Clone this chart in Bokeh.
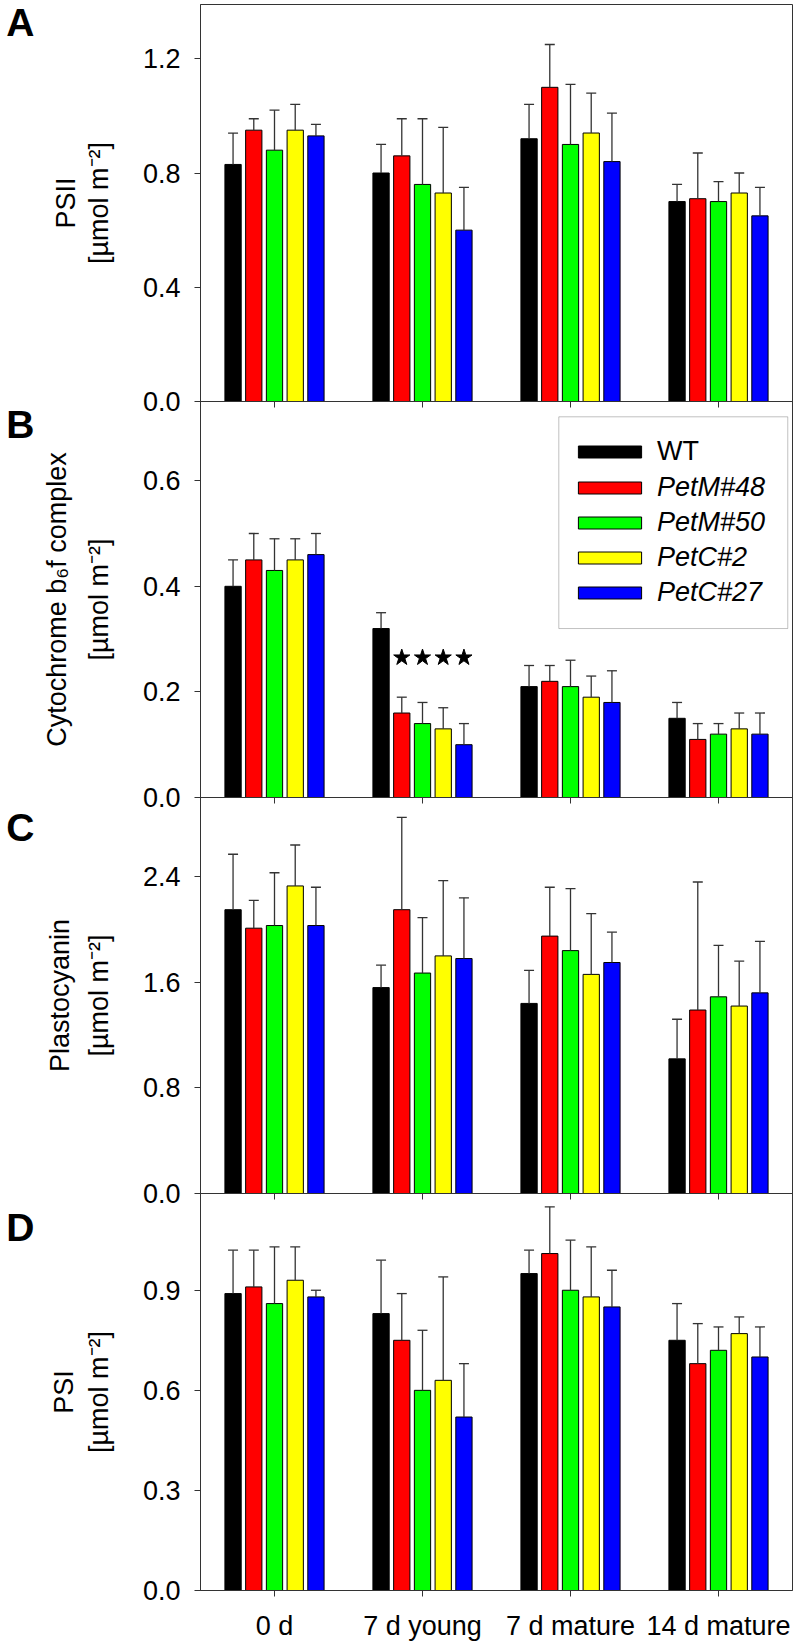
from bokeh.plotting import figure
from bokeh.models import (ColumnDataSource, FactorRange, Range1d, CategoricalAxis, LinearAxis,
                          FixedTicker, Whisker, TeeHead, Legend, LegendItem, BoxAnnotation,
                          PrintfTickFormatter, CustomJSTickFormatter)
from bokeh.transform import dodge
from bokeh.layouts import column
from bokeh.embed import file_html
from bokeh.resources import INLINE

# ---------------- data ----------------
categories = ["0 d", "7 d young", "7 d mature", "14 d mature"]
lines = ["WT", "PetM#48", "PetM#50", "PetC#2", "PetC#27"]
colors = ["#000000", "#ff0000", "#00ff00", "#ffff00", "#0000ff"]

# rows: lines, columns: categories
psii_mean = [
    [0.83, 0.80, 0.92, 0.70],
    [0.95, 0.86, 1.10, 0.71],
    [0.88, 0.76, 0.90, 0.70],
    [0.95, 0.73, 0.94, 0.73],
    [0.93, 0.60, 0.84, 0.65],
]
psii_sd = [
    [0.11, 0.10, 0.12, 0.06],
    [0.04, 0.13, 0.15, 0.16],
    [0.14, 0.23, 0.21, 0.07],
    [0.09, 0.23, 0.14, 0.07],
    [0.04, 0.15, 0.17, 0.10],
]
cytb6f_mean = [
    [0.40, 0.32, 0.21, 0.15],
    [0.45, 0.16, 0.22, 0.11],
    [0.43, 0.14, 0.21, 0.12],
    [0.45, 0.13, 0.19, 0.13],
    [0.46, 0.10, 0.18, 0.12],
]
cytb6f_sd = [
    [0.05, 0.03, 0.04, 0.03],
    [0.05, 0.03, 0.03, 0.03],
    [0.06, 0.04, 0.05, 0.02],
    [0.04, 0.04, 0.04, 0.03],
    [0.04, 0.04, 0.06, 0.04],
]
pc_mean = [
    [2.15, 1.56, 1.44, 1.02],
    [2.01, 2.15, 1.95, 1.39],
    [2.03, 1.67, 1.84, 1.49],
    [2.33, 1.80, 1.66, 1.42],
    [2.03, 1.78, 1.75, 1.52],
]
pc_sd = [
    [0.42, 0.17, 0.25, 0.30],
    [0.21, 0.70, 0.37, 0.97],
    [0.40, 0.42, 0.47, 0.39],
    [0.31, 0.57, 0.46, 0.34],
    [0.29, 0.46, 0.23, 0.39],
]
psi_mean = [
    [0.89, 0.83, 0.95, 0.75],
    [0.91, 0.75, 1.01, 0.68],
    [0.86, 0.60, 0.90, 0.72],
    [0.93, 0.63, 0.88, 0.77],
    [0.88, 0.52, 0.85, 0.70],
]
psi_sd = [
    [0.13, 0.16, 0.07, 0.11],
    [0.11, 0.14, 0.14, 0.12],
    [0.17, 0.18, 0.15, 0.07],
    [0.10, 0.31, 0.15, 0.05],
    [0.02, 0.16, 0.11, 0.09],
]
unit_label = "[µmol m⁻²]"
# significance stars (cyt b6f, 7 d young, all mutant lines)
star_category = "7 d young"
star_lines = ["PetM#48", "PetM#50", "PetC#2", "PetC#27"]
star_level = 0.265

# ---------------- style ----------------
FONT = "Liberation Sans"
AX = "#333333"
FRAME_W = 592
STRIP = 17          # overlap strip so that the "0.0" labels are not cut
offsets = [-0.28, -0.14, 0.0, 0.14, 0.28]
BAR_W = 0.11

x_range = FactorRange(factors=categories, range_padding=0)


def make_panel(means, sds, y_end, ticks, title, letter, letter_y, frame_h,
               title_gap, letter_gap,
               top_border=0, bottom_labels=False, overlap=True):
    p = figure(x_range=x_range, y_range=Range1d(0, y_end),
               frame_width=FRAME_W, frame_height=frame_h,
               x_axis_location="below",
               y_axis_location="left",
               output_backend="svg", toolbar_location=None,
               min_border_left=200, min_border_right=5,
               min_border_top=top_border,
               min_border_bottom=0 if bottom_labels else STRIP,
               outline_line_color=AX, outline_line_width=1,
               background_fill_alpha=0, border_fill_alpha=0)
    p.grid.visible = False
    if overlap:
        p.margin = (-STRIP, 0, 0, 0)

    ya = p.yaxis[0]
    ya.ticker = FixedTicker(ticks=ticks, minor_ticks=[])
    ya.formatter = PrintfTickFormatter(format="%.1f")
    ya.major_label_text_font = FONT
    ya.major_label_text_font_size = "27px"
    ya.major_label_text_color = "black"
    ya.major_tick_out = 6
    ya.major_tick_in = 0
    ya.minor_tick_out = 0
    ya.minor_tick_in = 0
    ya.major_label_standoff = 14
    ya.axis_line_color = AX
    ya.major_tick_line_color = AX
    ya.axis_label = unit_label
    ya.axis_label_text_font = FONT
    ya.axis_label_text_font_size = "27px"
    ya.axis_label_text_font_style = "normal"
    ya.axis_label_text_color = "black"
    ya.axis_label_standoff = 26

    # first line of the y title, as the label of a bare outer axis
    ta = LinearAxis(ticker=FixedTicker(ticks=[], minor_ticks=[]),
                    axis_label=title, axis_label_text_font=FONT,
                    axis_label_text_font_size="27px", axis_label_text_font_style="normal",
                    axis_label_text_color="black", axis_label_standoff=title_gap,
                    major_tick_out=0, major_tick_in=0, minor_tick_out=0, minor_tick_in=0,
                    major_label_standoff=0, major_label_text_font_size="0px",
                    major_tick_line_color=None, minor_tick_line_color=None,
                    axis_line_color=None)
    p.add_layout(ta, "left")

    # panel letter, drawn as the single label of the outermost left axis
    la = LinearAxis(ticker=FixedTicker(ticks=[letter_y], minor_ticks=[]),
                    formatter=CustomJSTickFormatter(code="return '%s'" % letter),
                    major_label_text_font=FONT, major_label_text_font_size="39px",
                    major_label_text_font_style="bold", major_label_text_color="black",
                    major_tick_out=0, major_tick_in=0, minor_tick_out=0, minor_tick_in=0,
                    major_tick_line_color=None, minor_tick_line_color=None,
                    axis_line_color=None, major_label_standoff=letter_gap)
    p.add_layout(la, "left")

    xa = p.xaxis[0]
    xa.major_tick_out = 6
    xa.major_tick_in = 0
    xa.axis_line_color = AX
    xa.major_tick_line_color = AX
    if bottom_labels:
        xa.major_label_text_font = FONT
        xa.major_label_text_font_size = "27px"
        xa.major_label_text_color = "black"
        xa.major_label_standoff = 14
    else:
        # ticks only (they point into the panel below)
        xa.major_label_text_font_size = "0px"
        xa.major_label_text_color = None
        xa.major_label_standoff = 0

    renderers = []
    for i, name in enumerate(lines):
        src = ColumnDataSource(dict(
            x=categories,
            top=means[i],
            upper=[m + s for m, s in zip(means[i], sds[i])],
        ))
        r = p.vbar(x=dodge("x", offsets[i], range=x_range), top="top", bottom=0,
                   width=BAR_W, source=src, fill_color=colors[i],
                   line_color="black", line_width=1)
        renderers.append(r)
        w = Whisker(base=dodge("x", offsets[i], range=x_range), lower="top",
                    upper="upper", source=src, dimension="height",
                    lower_head=None,
                    upper_head=TeeHead(size=10, line_color=AX, line_width=1.3),
                    line_color=AX, line_width=1.3, level="annotation")
        p.add_layout(w)
    return p, renderers


pA, _ = make_panel(psii_mean, psii_sd, 1.39, [0, 0.4, 0.8, 1.2],
                   "PSII", "A", 1.328, 397, 0, 13, top_border=4, overlap=False)
pB, rB = make_panel(cytb6f_mean, cytb6f_sd, 0.75, [0, 0.2, 0.4, 0.6],
                    "Cytochrome b₆f complex", "B", 0.7055, 396, 9, 4)
pC, _ = make_panel(pc_mean, pc_sd, 3.0, [0, 0.8, 1.6, 2.4],
                   "Plastocyanin", "C", 2.771, 396, 6, 7)
pD, _ = make_panel(psi_mean, psi_sd, 1.19, [0, 0.3, 0.6, 0.9],
                   "PSI", "D", 1.0876, 397, 2, 11, bottom_labels=True)

# significance stars
for name in star_lines:
    i = lines.index(name)
    s_src = ColumnDataSource(dict(x=[star_category], y=[star_level]))
    pB.scatter(x=dodge("x", offsets[i], range=x_range), y="y", source=s_src,
               marker="star", size=17, fill_color="black", line_color="black")

# legend box + two legends (WT upright, mutant lines italic)
pB.add_layout(BoxAnnotation(left=2.421, right=3.968, top=0.721, bottom=0.320,
                            fill_color="white", fill_alpha=1.0,
                            line_color=AX, line_width=1))

common = dict(glyph_width=79, glyph_height=15, label_standoff=8, padding=0,
              margin=0, spacing=4, border_line_color=None,
              background_fill_alpha=0, label_text_font=FONT,
              label_text_font_size="27px", label_text_color="black",
              label_height=31)
leg1 = Legend(items=[LegendItem(label=lines[0], renderers=[rB[0]])],
              location=(370, 330), label_text_font_style="normal", **common)
leg2 = Legend(items=[LegendItem(label=lines[i], renderers=[rB[i]]) for i in range(1, 5)],
              location=(370, 189), label_text_font_style="italic", **common)
pB.add_layout(leg1)
pB.add_layout(leg2)

layout = column(pA, pB, pC, pD)
open("out.html", "w").write(file_html(layout, INLINE))
